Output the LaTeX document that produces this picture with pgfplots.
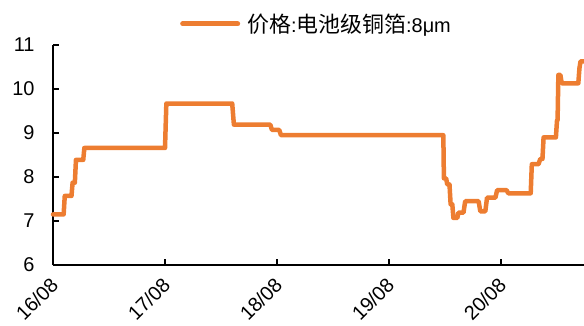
\documentclass[border=0pt]{standalone}
\usepackage{fontspec}
\setmainfont{Liberation Sans}
\newfontfamily\cjk{Noto Sans CJK SC}
\usepackage{pgfplots}
\pgfplotsset{compat=1.18}
\definecolor{priceorange}{HTML}{ED7D31}

\begin{document}
\begin{tikzpicture}[x=1bp,y=1bp]
\useasboundingbox (0,0) rectangle (584,325);
\begin{axis}[
  at={(53bp,60bp)}, anchor=south west,
  scale only axis,
  width=531bp, height=220bp,
  xmin=16, xmax=20.741,
  ymin=6, ymax=11,
  axis lines=left,
  axis line style={line width=1.6bp, -},
  tick style={line width=1.6bp, black},
  tick align=inside,
  major tick length=6bp,
  xtick={16,17,18,19,20},
  xticklabels={16/08,17/08,18/08,19/08,20/08},
  ytick={6,7,8,9,10,11},
  /pgf/number format/assume math mode=true,
  tick label style={font=\fontsize{20}{24}\selectfont},
  yticklabel style={xshift=-15bp},
  xticklabel style={xshift=4bp, yshift=-14bp, rotate=45, anchor=east},
  legend style={at={(0.5,1)}, anchor=south, xshift=-2bp, yshift=9bp, draw=none, fill=none,
    font=\fontsize{20}{24}\selectfont, inner sep=0pt,
    /tikz/every even column/.append style={column sep=0pt}},
  legend cell align=left,
  legend image code/.code={\draw[line width=5bp, line cap=round] (0bp,0bp) -- (55bp,0bp);},
  clip=false,
]
\addplot[priceorange, line width=4.5bp, line join=round, line cap=round] coordinates {
  (16.000,7.15) (16.095,7.15) (16.105,7.57) (16.165,7.57) (16.175,7.87)
  (16.195,7.87) (16.205,8.39) (16.270,8.39) (16.280,8.66) (17.000,8.66)
  (17.012,9.67) (17.600,9.67) (17.615,9.19) (17.940,9.19) (17.955,9.07)
  (18.020,9.07) (18.035,8.95) (19.485,8.95) (19.490,7.97) (19.510,7.97)
  (19.520,7.83) (19.540,7.83) (19.550,7.38) (19.565,7.38) (19.575,7.07)
  (19.610,7.07) (19.620,7.19) (19.665,7.19) (19.680,7.45) (19.800,7.45)
  (19.815,7.22) (19.860,7.22) (19.875,7.53) (19.950,7.53) (19.965,7.70)
  (20.050,7.70) (20.065,7.63) (20.265,7.63) (20.275,8.29) (20.335,8.29)
  (20.350,8.41) (20.370,8.41) (20.380,8.90) (20.490,8.90) (20.500,9.29)
  (20.505,9.29) (20.512,10.32) (20.530,10.32) (20.542,10.13) (20.690,10.13)
  (20.700,10.47) (20.710,10.63) (20.741,10.63)
};
\addlegendentry{\hspace{5bp}{\cjk\fontsize{22}{24}\selectfont 价格}:{\cjk\fontsize{22}{24}\selectfont 电池级铜箔}:8μm}
\end{axis}
\end{tikzpicture}
\end{document}
